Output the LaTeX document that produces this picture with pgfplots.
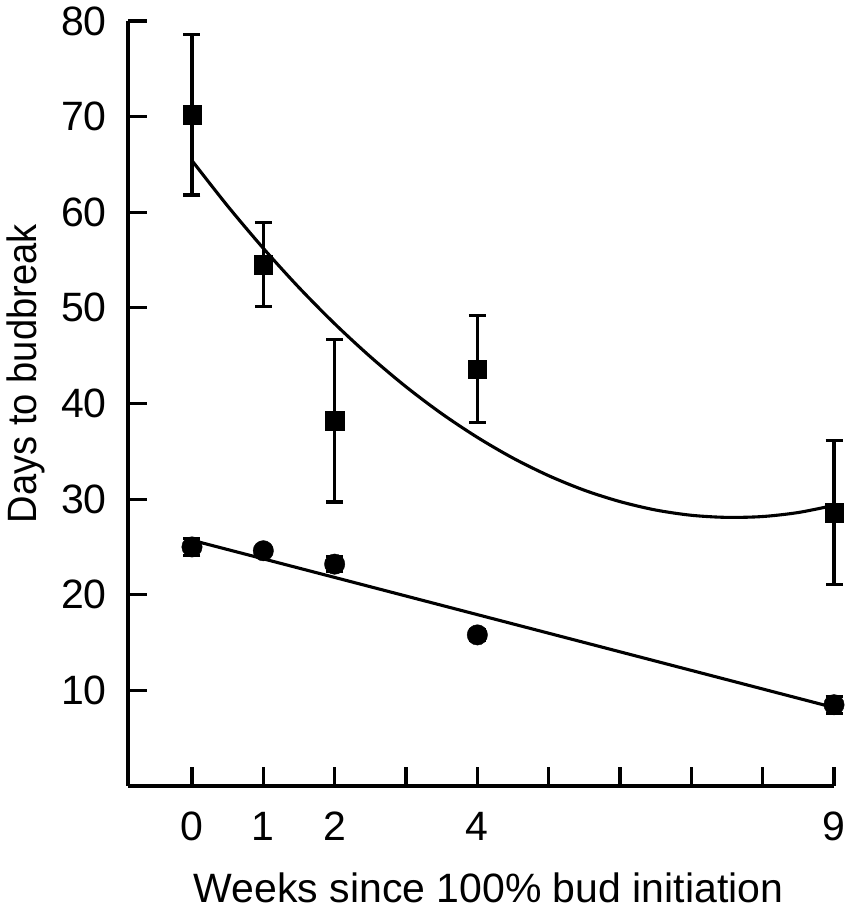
\documentclass[border=0pt]{standalone}
\usepackage{fontspec}
\setmainfont{Liberation Sans}
\usepackage{pgfplots}
\pgfplotsset{compat=1.18}
\begin{document}
\fontsize{41}{49}\selectfont
\begin{tikzpicture}
\begin{axis}[
  scale only axis,
  width=706pt, height=765pt,
  xmin=-0.897, xmax=9, ymin=0, ymax=80,
  axis x line=bottom, axis y line=left,
  axis line style={line width=3.3pt, -},
  every tick/.style={line width=3.2pt, black},
  major tick length=19pt,
  tick align=inside,
  xtick={0,1,2,3,4,5,6,7,8,9},
  xticklabels={0,1,2,,4,,,,,9},
  ytick={10,20,30,40,50,60,70,80},
  yticklabels={10,20,30,40,50,60,70,80},
  ticklabel style={font=\fontsize{41}{49}\selectfont, inner sep=2pt},
  xticklabel style={yshift=-24pt},
  yticklabel style={xshift=-19pt},
  xlabel={Weeks since 100\% bud initiation},
  ylabel={Days to budbreak},
  label style={font=\fontsize{41}{49}\selectfont, inner sep=0pt},
  xlabel style={at={(axis description cs:0.5106,0)}, anchor=base, yshift=-116pt},
  ylabel style={at={(axis description cs:-0.1303,0.539)}, anchor=base, xscale=0.93},
  clip=false,
]
% fitted curves
\addplot[black, line width=3.1pt, smooth] coordinates {
(0,65.4) (0.5,60.65) (1,56.23) (1.5,52.12) (2,48.34) (2.5,44.89) (3,41.75)
(3.5,38.94) (4,36.46) (4.5,34.29) (5,32.45) (5.5,30.93) (6,29.74) (6.5,28.86)
(7,28.31) (7.5,28.09) (8,28.18) (8.5,28.60) (9,29.35)};
\addplot[black, line width=3.1pt] coordinates {(0,25.7) (9,8.2)};
% squares with error bars
\addplot[black, only marks, mark=square*, mark size=9.2pt,
  error bars/.cd, y dir=both, y explicit,
  error bar style={line width=3.1pt},
  error mark options={line width=3.1pt, mark size=8.5pt, rotate=90}]
  coordinates {
  (0,70.2) +- (0,8.4)
  (1,54.5) +- (0,4.4)
  (2,38.2) +- (0,8.5)
  (4,43.6) +- (0,5.6)
  (9,28.6) +- (0,7.5)};
% circles with error bars
\addplot[black, only marks, mark=*, mark size=10.2pt,
  error bars/.cd, y dir=both, y explicit,
  error bar style={line width=3.1pt},
  error mark options={line width=3.1pt, mark size=8.5pt, rotate=90}]
  coordinates {
  (0,25.0) +- (0,0.9)
  (1,24.6) +- (0,0.4)
  (2,23.2) +- (0,0.8)
  (4,15.8) +- (0,0.6)
  (9,8.5) +- (0,0.9)};
\end{axis}
\pgfresetboundingbox
\path ([shift={(-128pt,-124pt)}]current axis.south west) rectangle ([shift={(16pt,21pt)}]current axis.north east);
\end{tikzpicture}
\end{document}
